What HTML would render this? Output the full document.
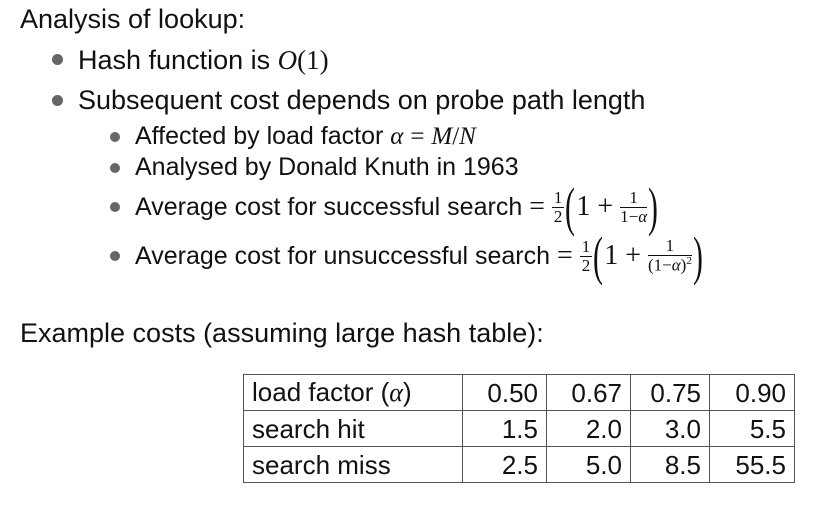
<!DOCTYPE html>
<html><head><meta charset="utf-8">
<style>
body{margin:0;width:828px;height:520px;background:#fff;overflow:hidden;font-family:"Liberation Sans",sans-serif;color:#111;position:relative}
.t{position:absolute;white-space:nowrap;line-height:1}
.b1{font-size:27px}
.b2{font-size:25px}
.dot{position:absolute;border-radius:50%;background:#666}
.m{font-family:"Liberation Serif",serif}
.i{font-style:italic}
.fr{display:inline-block;vertical-align:middle;text-align:center;font-family:"Liberation Serif",serif;font-size:17px;line-height:1.05}
.fr span{display:block}
.fr .n{border-bottom:1px solid #111;padding:0 2px}
.par{font-family:"Liberation Serif",serif;font-size:54px;vertical-align:middle;display:inline-block;transform:scaleX(0.55);line-height:1;margin:0 -3px}
.one{font-size:28px}
table{position:absolute;left:243px;top:374px;border-collapse:collapse;font-size:26px}
td{border:1.5px solid #555;height:35px;padding:0 8px;line-height:1}
td.v{text-align:right}
</style></head><body>
<div class="t b1" style="left:20px;top:6px">Analysis of lookup:</div>

<div class="dot" style="left:52px;top:54px;width:11px;height:11px"></div>
<div class="t b1" style="left:78px;top:47px">Hash function is <span class="m i">O</span><span class="m">(1)</span></div>

<div class="dot" style="left:52px;top:95px;width:11px;height:11px"></div>
<div class="t b1" style="left:78px;top:87px">Subsequent cost depends on probe path length</div>

<div class="dot" style="left:110px;top:132px;width:10px;height:10px"></div>
<div class="t b2" style="left:135px;top:124px">Affected by load factor <span class="m i">α</span> <span class="m">=</span> <span class="m i">M</span><span class="m">/</span><span class="m i">N</span></div>

<div class="dot" style="left:110px;top:163px;width:10px;height:10px"></div>
<div class="t b2" style="left:135px;top:155px">Analysed by Donald Knuth in 1963</div>

<div class="dot" style="left:110px;top:202px;width:10px;height:10px"></div>
<div class="t b2" style="left:135px;top:182px;height:50px;display:flex;align-items:center">Average cost for successful search&nbsp;<span class="m one">=</span>&nbsp;<span class="fr"><span class="n">1</span><span>2</span></span><span class="par">(</span><span class="m one">1 +</span>&nbsp;<span class="fr"><span class="n">1</span><span>1−<i>α</i></span></span><span class="par">)</span></div>

<div class="dot" style="left:110px;top:251px;width:10px;height:10px"></div>
<div class="t b2" style="left:135px;top:231px;height:50px;display:flex;align-items:center">Average cost for unsuccessful search&nbsp;<span class="m one">=</span>&nbsp;<span class="fr"><span class="n">1</span><span>2</span></span><span class="par">(</span><span class="m one">1 +</span>&nbsp;<span class="fr"><span class="n">1</span><span>(1−<i>α</i>)<sup style="font-size:11px">2</sup></span></span><span class="par">)</span></div>

<div class="t b1" style="left:20px;top:320px">Example costs (assuming large hash table):</div>

<table>
<tr><td style="width:202px">load factor (<span class="m i">α</span>)</td><td class="v" style="width:67px">0.50</td><td class="v" style="width:67px">0.67</td><td class="v" style="width:62px">0.75</td><td class="v" style="width:68px">0.90</td></tr>
<tr><td>search hit</td><td class="v">1.5</td><td class="v">2.0</td><td class="v">3.0</td><td class="v">5.5</td></tr>
<tr><td>search miss</td><td class="v">2.5</td><td class="v">5.0</td><td class="v">8.5</td><td class="v">55.5</td></tr>
</table>
</body></html>
